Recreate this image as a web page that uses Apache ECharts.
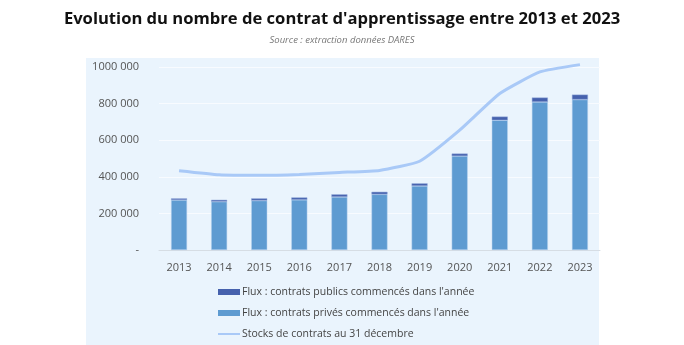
<!DOCTYPE html>
<html>
<head>
<meta charset="utf-8">
<script src="https://cdn.jsdelivr.net/npm/echarts@6/dist/echarts.min.js"></script>
<style>
  html, body { margin: 0; padding: 0; background: #ffffff; }
  #chart { width: 684px; height: 345px; }
</style>
</head>
<body>
<div id="chart"></div>
<script>
// Apprenticeship contracts, France 2013–2023 (source: DARES)
const years = ['2013', '2014', '2015', '2016', '2017', '2018', '2019', '2020', '2021', '2022', '2023'];
// New private-sector contracts started during the year
const privateFlow = [273000, 264000, 270000, 274000, 290000, 304000, 350000, 513000, 709000, 809000, 822000];
// New public-sector contracts started during the year
const publicFlow = [9000, 10000, 12000, 13000, 14000, 14000, 14000, 14000, 20000, 24000, 27000];
// Stock of contracts at 31 December
const stock = [433000, 411000, 408000, 413000, 424000, 435000, 485000, 655000, 855000, 973000, 1013000];
const yTicks = [0, 200000, 400000, 600000, 800000, 1000000];

const names = {
  pub: "Flux : contrats publics commencés dans l'année",
  priv: "Flux : contrats privés commencés dans l'année",
  stock: 'Stocks de contrats au 31 décembre'
};

// thin horizontal stroke for the line-series legend entry (box kept at 22x6)
const lineIcon = 'path://M0,0 M0,2 L22,2 L22,4 L0,4 Z M22,6';

function fmt(v) {
  if (v === 0) return '-';
  const s = String(v);
  return s.slice(0, -3) + ' ' + s.slice(-3);
}

const chart = echarts.init(document.getElementById('chart'), null, { renderer: 'canvas' });
chart.setOption({
  animation: false,
  backgroundColor: '#ffffff',
  title: [
    {
      text: "Evolution du nombre de contrat d'apprentissage entre 2013 et 2023",
      left: 'center', top: 6,
      textStyle: { fontFamily: 'Open Sans', fontWeight: 'bold', fontSize: 16.6, color: '#111111' }
    },
    {
      text: 'Source : extraction données DARES',
      left: 'center', top: 30,
      textStyle: { fontFamily: 'Open Sans', fontStyle: 'italic', fontWeight: 'normal', fontSize: 9.5, color: '#777777' }
    }
  ],
  graphic: [
    {
      type: 'rect', z: -10, silent: true,
      shape: { x: 86, y: 58, width: 513, height: 287 },
      style: { fill: '#eaf4fd' }
    }
  ],
  grid: { left: 159, right: 84, top: 67, height: 183, containLabel: false },
  legend: {
    orient: 'vertical',
    left: 218, top: 285, padding: 0, height: 70,
    itemWidth: 22, itemHeight: 6, itemGap: 7,
    textStyle: { fontFamily: 'Open Sans', fontSize: 10.5, color: '#444444', lineHeight: 14, padding: [0, 0, 0, -3] },
    data: [
      { name: names.pub, icon: 'rect', itemStyle: { borderWidth: 0 } },
      { name: names.priv, icon: 'rect', itemStyle: { borderWidth: 0 } },
      { name: names.stock, icon: lineIcon }
    ]
  },
  xAxis: {
    type: 'category',
    data: years,
    axisLine: { lineStyle: { color: '#d6dde4', width: 1 } },
    axisTick: { show: false },
    axisLabel: { fontFamily: 'Open Sans', fontSize: 11, color: '#555555', margin: 12 }
  },
  yAxis: {
    type: 'value',
    min: 0, max: 1000000, interval: 200000,
    axisLine: { show: false },
    axisTick: { show: false },
    splitLine: { lineStyle: { color: '#f8fbff', width: 1 } },
    axisLabel: {
      fontFamily: 'Open Sans', fontSize: 11, color: '#555555', margin: 20,
      formatter: function (v) { return yTicks.indexOf(v) >= 0 ? fmt(v) : ''; }
    }
  },
  series: [
    {
      name: names.priv, type: 'bar', stack: 'flux', data: privateFlow,
      barWidth: 16,
      itemStyle: { color: '#5e9bd1', borderColor: '#b9d3ee', borderWidth: 0.5 }
    },
    {
      name: names.pub, type: 'bar', stack: 'flux', data: publicFlow,
      barWidth: 16,
      itemStyle: { color: '#4661ad', borderColor: '#8fa6d8', borderWidth: 0.5 }
    },
    {
      name: names.stock, type: 'line', data: stock,
      smooth: 0.15, symbol: 'none', clip: false,
      lineStyle: { color: '#a9c9f7', width: 3 },
      itemStyle: { color: '#a9c9f7' },
      z: 5
    }
  ]
});
</script>
</body>
</html>
